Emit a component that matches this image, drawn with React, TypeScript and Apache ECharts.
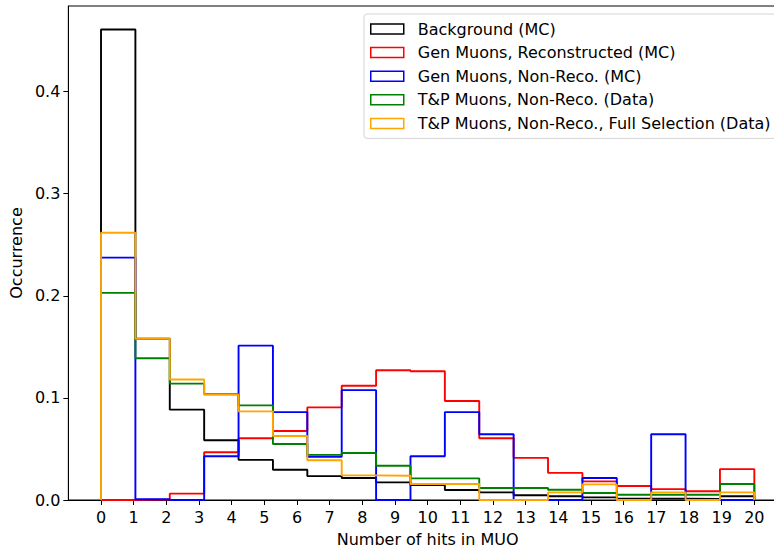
import React, { useEffect, useRef } from "react";
import * as echarts from "echarts";

// Histogram setup: 19 bins spanning 0..20
const binRange = [0, 20];
const binCount = 19;

const seriesNames = [
  "Background (MC)",
  "Gen Muons, Reconstructed (MC)",
  "Gen Muons, Non-Reco. (MC)",
  "T&P Muons, Non-Reco. (Data)",
  "T&P Muons, Non-Reco., Full Selection (Data)",
];
const seriesColors = ["#000000", "#ff0000", "#0000ff", "#008000", "#ffa500"];

const background = [0.4608, 0.158, 0.0885, 0.0585, 0.0393, 0.0296, 0.0234, 0.0215, 0.0173, 0.0146, 0.0098, 0.0075, 0.0046, 0.0036, 0.0026, 0.0013, 0.0013, 0.001, 0.0036];
const genReco = [0, 0.0005, 0.0062, 0.0468, 0.0605, 0.0676, 0.0907, 0.1119, 0.1271, 0.1261, 0.0969, 0.0605, 0.0413, 0.0266, 0.0182, 0.0137, 0.0107, 0.0085, 0.0302];
const genNonReco = [0.2374, 0.0008, 0, 0.0429, 0.1512, 0.0861, 0.0423, 0.1076, 0, 0.0429, 0.0861, 0.0644, 0, 0, 0.0215, 0, 0.0644, 0, 0];
const tpNonReco = [0.2029, 0.1388, 0.114, 0.1037, 0.0927, 0.0549, 0.0442, 0.0461, 0.0335, 0.0212, 0.0212, 0.0117, 0.0117, 0.01, 0.0068, 0.0052, 0.0052, 0.0052, 0.0156];
const tpFullSel = [0.2618, 0.158, 0.118, 0.1031, 0.0868, 0.0627, 0.039, 0.0241, 0.0237, 0.0156, 0.0156, 0, 0, 0.0075, 0.0153, 0, 0.0075, 0, 0.0075];

const allValues = [background, genReco, genNonReco, tpNonReco, tpFullSel];

const xTickValues = Array.from({ length: 21 }, (_, i) => i);
const yTickValues = [0, 0.1, 0.2, 0.3, 0.4];

const FONT = "DejaVu Sans";

function stepPoints(values: number[]): number[][] {
  const w = (binRange[1] - binRange[0]) / binCount;
  const edges = Array.from({ length: binCount + 1 }, (_, i) => binRange[0] + i * w);
  const pts: number[][] = [[edges[0], 0]];
  values.forEach((v, i) => pts.push([edges[i], v]));
  pts.push([edges[binCount], 0]);
  return pts;
}

export default function App() {
  const ref = useRef<HTMLDivElement>(null);
  useEffect(() => {
    if (!ref.current) return;
    const chart = echarts.init(ref.current, null, { renderer: "svg" });
    const ymax = Math.max(...background) * 1.05;
    chart.setOption({
      animation: false,
      backgroundColor: "#ffffff",
      grid: {
        left: 68,
        top: 6,
        width: 719,
        height: 496,
        show: true,
        borderColor: "#000",
        borderWidth: 1,
        backgroundColor: "transparent",
      },
      legend: {
        orient: "vertical",
        left: 364,
        top: 14,
        padding: [6, 8, 6, 6],
        itemGap: 5.6,
        itemWidth: 33,
        itemHeight: 10,
        selectedMode: false,
        backgroundColor: "rgba(255,255,255,0.8)",
        borderColor: "#d4d4d4",
        borderWidth: 1,
        borderRadius: 3,
        textStyle: {
          fontFamily: FONT,
          fontSize: 16,
          lineHeight: 18,
          color: "#000",
          padding: [0, 0, 0, 9],
        },
        data: seriesNames.map((n, i) => ({
          name: n,
          icon: "rect",
          itemStyle: { color: "rgba(255,255,255,0)", borderColor: seriesColors[i], borderWidth: 1.5 },
        })),
      },
      xAxis: {
        type: "value",
        min: -1,
        max: 21,
        interval: 1,
        name: "Number of hits in MUO",
        nameLocation: "middle",
        nameGap: 31,
        nameTextStyle: { fontFamily: FONT, fontSize: 16, color: "#000" },
        splitLine: { show: false },
        axisLine: { show: true, onZero: false, lineStyle: { color: "#000", width: 1 } },
        axisTick: { show: true, length: 5, lineStyle: { color: "#000" }, customValues: xTickValues },
        axisLabel: {
          fontFamily: FONT,
          fontSize: 16,
          color: "#000",
          margin: 9,
          customValues: xTickValues,
          formatter: (v: number) => String(v),
        },
      },
      yAxis: {
        type: "value",
        min: 0,
        max: ymax,
        interval: 0.1,
        name: "Occurrence",
        nameLocation: "middle",
        nameGap: 44,
        nameTextStyle: { fontFamily: FONT, fontSize: 16, color: "#000" },
        splitLine: { show: false },
        axisLine: { show: true, onZero: false, lineStyle: { color: "#000", width: 1 } },
        axisTick: { show: true, length: 5, lineStyle: { color: "#000" }, customValues: yTickValues },
        axisLabel: {
          fontFamily: FONT,
          fontSize: 16,
          color: "#000",
          margin: 8,
          customValues: yTickValues,
          formatter: (v: number) => v.toFixed(1),
        },
      },
      series: allValues.map((vals, i) => ({
        name: seriesNames[i],
        type: "line",
        step: "end",
        symbol: "none",
        showSymbol: false,
        clip: true,
        color: seriesColors[i],
        itemStyle: { color: seriesColors[i] },
        lineStyle: { color: seriesColors[i], width: 1.9 },
        data: stepPoints(vals),
        z: 2 + i,
      })),
    });
    return () => chart.dispose();
  }, []);
  return (
    <div style={{ position: "fixed", left: 0, top: 0, width: 774, height: 552, overflow: "hidden", background: "#fff" }}>
      <div ref={ref} style={{ width: 800, height: 552 }} />
    </div>
  );
}
